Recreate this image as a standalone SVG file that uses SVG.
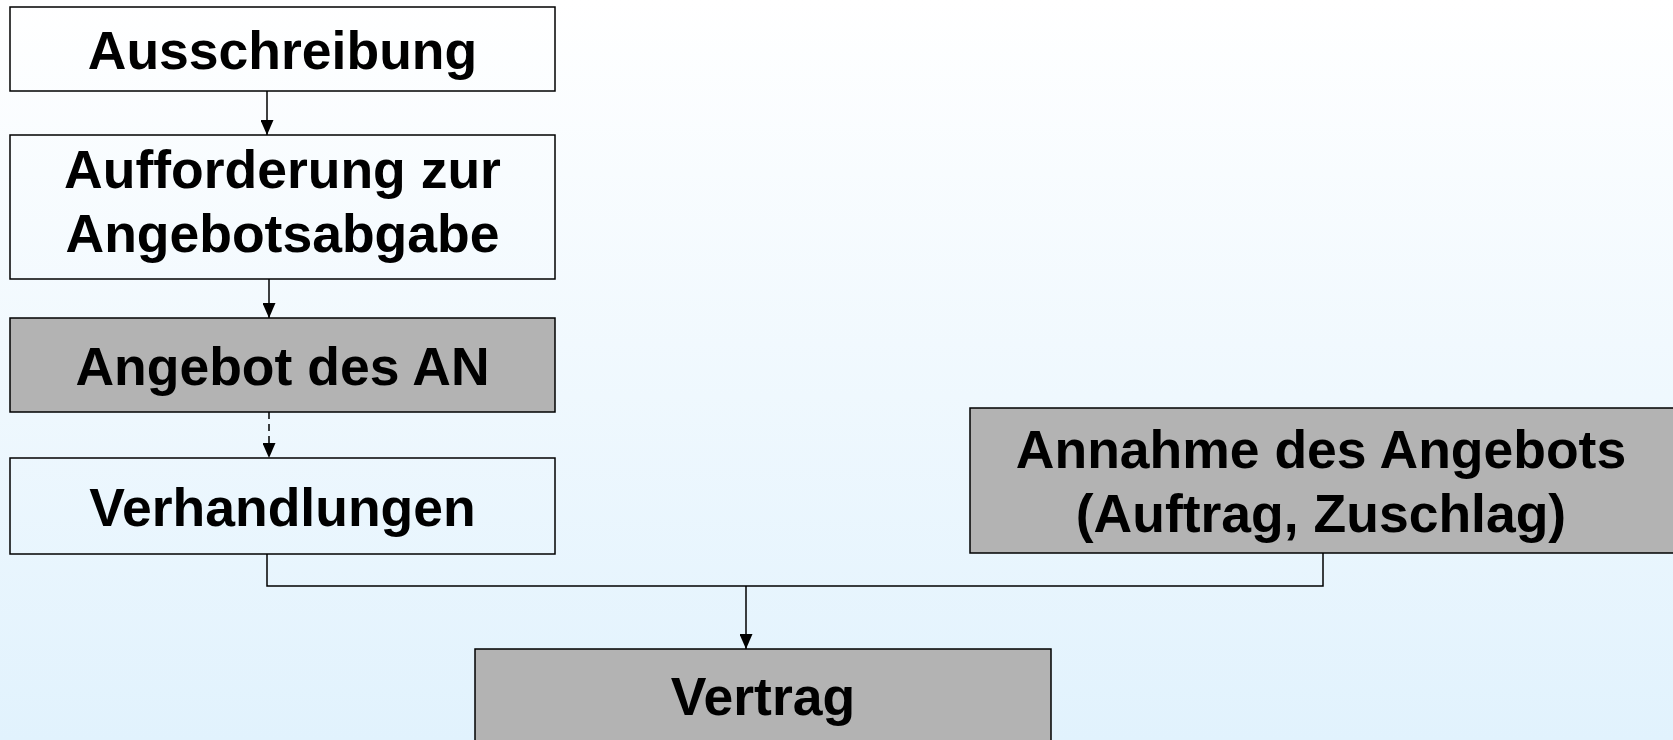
<svg xmlns="http://www.w3.org/2000/svg" width="1673" height="740" viewBox="0 0 1673 740">
<defs>
<linearGradient id="bg" x1="0" y1="0" x2="0" y2="1">
<stop offset="0" stop-color="#ffffff"/>
<stop offset="1" stop-color="#e1f2fd"/>
</linearGradient>
<marker id="ah" markerWidth="15" markerHeight="13" viewBox="0 0 15 13" refX="15" refY="6.5" orient="auto" markerUnits="userSpaceOnUse">
<path d="M0,0 L15,6.5 L0,13 Z" fill="#000"/>
</marker>
<style>
.box{stroke:#000;stroke-width:1.5}
.w{fill:none}
.g{fill:#b3b3b3}
.t{font-family:"Liberation Sans",Arial,sans-serif;font-weight:bold;font-size:53.5px;fill:#000;text-anchor:middle}
.c{fill:none;stroke:#000;stroke-width:1.5}
</style>
</defs>
<rect width="1673" height="740" fill="url(#bg)"/>
<g id="connectors">
<line class="c" x1="267" y1="91" x2="267" y2="135" marker-end="url(#ah)"/>
<line class="c" x1="269" y1="279" x2="269" y2="318" marker-end="url(#ah)"/>
<line class="c" x1="269" y1="412" x2="269" y2="458" stroke-dasharray="7,5" marker-end="url(#ah)"/>
<polyline class="c" points="267,554 267,586 1323,586 1323,553"/>
<line class="c" x1="746" y1="586" x2="746" y2="649" marker-end="url(#ah)"/>
</g>
<g id="ausschreibung">
<rect class="box w" x="10" y="7" width="545" height="84"/>
<text class="t" x="282.5" y="69">Ausschreibung</text>
</g>
<g id="aufforderung">
<rect class="box w" x="10" y="135" width="545" height="144"/>
<text class="t" x="282.5" y="188">Aufforderung zur</text>
<text class="t" x="282.5" y="252">Angebotsabgabe</text>
</g>
<g id="angebot">
<rect class="box g" x="10" y="318" width="545" height="94"/>
<text class="t" x="282.5" y="385">Angebot des AN</text>
</g>
<g id="verhandlungen">
<rect class="box w" x="10" y="458" width="545" height="96"/>
<text class="t" x="282.5" y="526">Verhandlungen</text>
</g>
<g id="annahme">
<rect class="box g" x="970" y="408" width="710" height="145"/>
<text class="t" x="1321" y="468">Annahme des Angebots</text>
<text class="t" x="1321" y="532">(Auftrag, Zuschlag)</text>
</g>
<g id="vertrag">
<rect class="box g" x="475" y="649" width="576" height="100"/>
<text class="t" x="763" y="715">Vertrag</text>
</g>
</svg>
